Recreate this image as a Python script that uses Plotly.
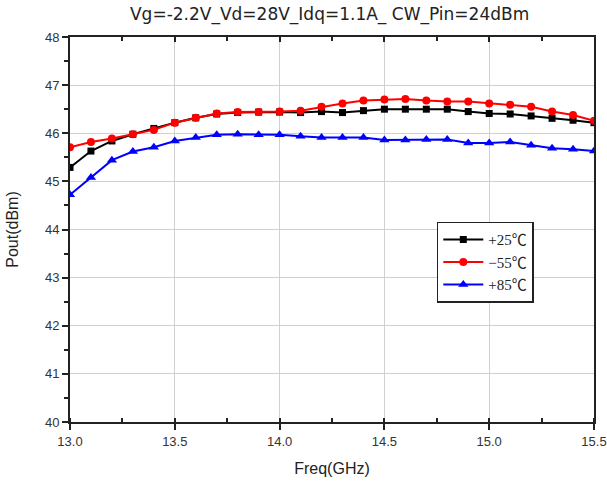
import plotly.graph_objects as go

freq = [13.0, 13.1, 13.2, 13.3, 13.4, 13.5, 13.6, 13.7, 13.8, 13.9, 14.0, 14.1, 14.2,
        14.3, 14.4, 14.5, 14.6, 14.7, 14.8, 14.9, 15.0, 15.1, 15.2, 15.3, 15.4, 15.5]

p25 = [45.29, 45.63, 45.84, 45.98, 46.10, 46.22, 46.32, 46.40, 46.43, 46.44, 46.44, 46.43, 46.45,
       46.43, 46.47, 46.50, 46.50, 46.50, 46.50, 46.45, 46.41, 46.40, 46.36, 46.31, 46.27, 46.22]
m55 = [45.71, 45.82, 45.89, 45.98, 46.07, 46.22, 46.32, 46.41, 46.44, 46.44, 46.45, 46.47, 46.55,
       46.62, 46.68, 46.70, 46.71, 46.68, 46.66, 46.66, 46.62, 46.59, 46.55, 46.45, 46.38, 46.26]
p85 = [44.72, 45.08, 45.44, 45.62, 45.71, 45.84, 45.91, 45.97, 45.98, 45.97, 45.97, 45.94, 45.91,
       45.91, 45.91, 45.86, 45.86, 45.87, 45.87, 45.80, 45.80, 45.82, 45.75, 45.69, 45.67, 45.63]

names = ["+25℃", "−55℃", "+85℃"]
colors = ["#000000", "#ff0000", "#0000ff"]
symbols = ["square", "circle", "triangle-up"]
sizes = [7, 8, 9]

fig = go.Figure()
for y, n, c, s, sz in zip([p25, m55, p85], names, colors, symbols, sizes):
    fig.add_trace(go.Scatter(
        x=freq, y=y, name=n, mode="lines+markers",
        line=dict(color=c, width=2),
        marker=dict(color=c, symbol=s, size=sz),
    ))

# invisible trace to provide a top axis with inward ticks
fig.add_trace(go.Scatter(x=[freq[0]], y=[p25[0]], xaxis="x2", mode="markers",
                         marker=dict(opacity=0), showlegend=False, hoverinfo="skip"))

fig.update_layout(
    width=607, height=486,
    margin=dict(l=70, r=13, t=37, b=64, autoexpand=False),
    paper_bgcolor="white", plot_bgcolor="white",
    title=dict(text="Vg=-2.2V_Vd=28V_Idq=1.1A_ CW_Pin=24dBm", x=0.543, xanchor="center",
               y=0.971, yanchor="middle", automargin=False,
               font=dict(family="DejaVu Sans", size=17, color="#222")),
    xaxis=dict(range=[13.0, 15.5], dtick=0.5, tick0=13.0, tickformat=".1f", automargin=False,
               showgrid=True, gridcolor="#d0d0d0", gridwidth=1,
               showline=True, linecolor="#222", linewidth=2, mirror=True,
               ticks="outside", ticklen=6, tickcolor="#222", tickwidth=1.5,
               minor=dict(dtick=0.25, ticks="inside", ticklen=4, tickcolor="#222", showgrid=False),
               tickfont=dict(family="Liberation Sans", size=13, color="#333"),
               title=dict(text="Freq(GHz)", font=dict(family="Liberation Sans", size=16, color="#222"),
                          standoff=15),
               zeroline=False),
    xaxis2=dict(range=[13.0, 15.5], dtick=0.5, tick0=13.0, overlaying="x", side="top",
                automargin=False,
                showticklabels=False, showgrid=False, ticks="inside", ticklen=5,
                tickcolor="#222", tickwidth=1.5,
                minor=dict(dtick=0.25, ticks="inside", ticklen=4, tickcolor="#222"),
                showline=False, zeroline=False),
    yaxis=dict(range=[40, 48], dtick=1, automargin=False,
               showgrid=True, gridcolor="#d0d0d0", gridwidth=1,
               showline=True, linecolor="#222", linewidth=2, mirror=True,
               ticks="outside", ticklen=6, tickcolor="#222", tickwidth=1.5,
               minor=dict(dtick=0.5, ticks="outside", ticklen=4, tickcolor="#222", showgrid=False),
               tickfont=dict(family="Liberation Sans", size=13, color="#333"),
               title=dict(text="Pout(dBm)", font=dict(family="Liberation Sans", size=16, color="#222"),
                          standoff=22),
               zeroline=False),
    legend=dict(x=0.70, y=0.52, xanchor="left", yanchor="top",
                bgcolor="white", bordercolor="#222", borderwidth=1.5,
                font=dict(family="Liberation Serif, Noto Sans CJK SC", size=15, color="#222"),
                tracegroupgap=0, itemwidth=40),
    showlegend=True,
)

fig.write_html("out.html", config={"displayModeBar": False},
               post_script="document.body.style.margin='0';document.body.style.overflow='hidden';")
